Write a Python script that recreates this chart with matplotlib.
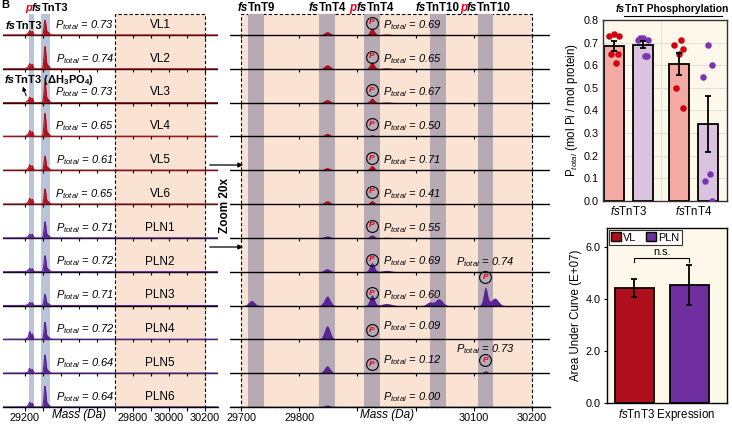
import matplotlib.pyplot as plt
import numpy as np
from matplotlib.patches import Rectangle, Patch
from matplotlib.offsetbox import TextArea, HPacker, AnnotationBbox

plt.rcParams['font.family'] = ['Liberation Sans', 'DejaVu Sans']
plt.rcParams['mathtext.fontset'] = 'custom'
plt.rcParams['mathtext.rm'] = 'Liberation Sans'
plt.rcParams['mathtext.it'] = 'Liberation Sans:italic'
plt.rcParams['mathtext.bf'] = 'Liberation Sans:bold'

W, H = 732, 425

# ---- data ----
samples = ['VL1', 'VL2', 'VL3', 'VL4', 'VL5', 'VL6',
           'PLN1', 'PLN2', 'PLN3', 'PLN4', 'PLN5', 'PLN6']
p_tnt3 = [0.73, 0.74, 0.73, 0.65, 0.61, 0.65, 0.71, 0.72, 0.71, 0.72, 0.64, 0.64]
p_tnt4 = [0.69, 0.65, 0.67, 0.50, 0.71, 0.41, 0.55, 0.69, 0.60, 0.09, 0.12, 0.00]
tnt10_rows = [8, 10]
p_tnt10 = [0.74, 0.73]

# full spectra: peak masses (Da), widths and heights per row (fraction of row height)
a_mass = [29213, 29226, 29240, 29311, 29326]
a_sigma = [4, 4.5, 4.5, 5, 8]
a_height = [
    [0.04, 0.13, 0.11, 0.42, 0.08],
    [0.04, 0.15, 0.13, 0.64, 0.10],
    [0.05, 0.16, 0.13, 0.58, 0.10],
    [0.05, 0.17, 0.14, 0.66, 0.10],
    [0.04, 0.16, 0.13, 0.40, 0.08],
    [0.04, 0.17, 0.14, 0.43, 0.08],
    [0.03, 0.11, 0.10, 0.46, 0.08],
    [0.03, 0.10, 0.09, 0.46, 0.08],
    [0.03, 0.09, 0.08, 0.32, 0.06],
    [0.04, 0.23, 0.16, 0.49, 0.08],
    [0.03, 0.14, 0.11, 0.52, 0.08],
    [0.03, 0.14, 0.11, 0.60, 0.08],
]
# zoomed spectra (20x)
b_mass = [29718, 29848, 29925, 29950, 30024, 30040, 30120, 30136]
b_sigma = [5, 5, 4, 8, 5, 6, 3.5, 6]
b_height = [
    [0.00, 0.10, 0.20, 0.03, 0.00, 0.00, 0.00, 0.00],
    [0.00, 0.12, 0.20, 0.03, 0.00, 0.00, 0.02, 0.00],
    [0.00, 0.09, 0.13, 0.02, 0.00, 0.00, 0.00, 0.00],
    [0.00, 0.09, 0.05, 0.00, 0.00, 0.00, 0.00, 0.00],
    [0.00, 0.08, 0.14, 0.02, 0.00, 0.00, 0.00, 0.00],
    [0.00, 0.10, 0.10, 0.02, 0.00, 0.00, 0.00, 0.00],
    [0.00, 0.06, 0.09, 0.02, 0.00, 0.00, 0.00, 0.00],
    [0.00, 0.09, 0.27, 0.04, 0.00, 0.00, 0.00, 0.00],
    [0.15, 0.28, 0.32, 0.06, 0.10, 0.20, 0.54, 0.22],
    [0.00, 0.40, 0.03, 0.00, 0.00, 0.00, 0.03, 0.00],
    [0.00, 0.22, 0.02, 0.00, 0.00, 0.00, 0.07, 0.02],
    [0.00, 0.06, 0.00, 0.00, 0.00, 0.00, 0.00, 0.00],
]
a_bands = [(29222, 29250), (29289, 29339)]
b_bands = [(29712, 29740), (29834, 29862), (29911, 29939), (30025, 30052), (30107, 30133)]
b_band_names = [['', 'fs', 'TnT9'], ['', 'fs', 'TnT4'], ['p', 'fs', 'TnT4'],
                ['', 'fs', 'TnT10'], ['p', 'fs', 'TnT10']]

# bar charts
groups = ['fsTnT3', 'fsTnT4']
vl_phos = [p_tnt3[:6], p_tnt4[:6]]
pln_phos = [p_tnt3[6:], p_tnt4[6:]]
jitter = [-0.07, 0.0, 0.07, -0.04, 0.03, 0.06]
auc_labels = ['VL', 'PLN']
auc_mean = [4.42, 4.55]
auc_err = [0.36, 0.77]

VL_C = '#b0101e'
PLN_C = '#5a2396'
ORANGE = '#fbe3d3'


def px_axes(x0, y0, x1, y1):
    return fig.add_axes([x0 / W, 1 - y1 / H, (x1 - x0) / W, (y1 - y0) / H])


def styled(parts, size):
    areas = []
    for t in parts:
        if not t:
            continue
        if t == 'p':
            props = dict(color='#e0001a', fontweight='bold', fontstyle='italic')
        elif t == 'fs':
            props = dict(color='black', fontweight='bold', fontstyle='italic')
        else:
            props = dict(color='black', fontweight='bold')
        props['fontsize'] = size
        areas.append(TextArea(t, textprops=props))
    return HPacker(children=areas, pad=0, sep=0, align='baseline')


def put(ax, box, xy, coords, align=(0.5, 0.5)):
    ab = AnnotationBbox(box, xy, xycoords=coords, frameon=False,
                        box_alignment=align, pad=0)
    ax.add_artist(ab)


def spectrum(x, mass, sigma, heights):
    y = np.zeros_like(x)
    for m, s, h in zip(mass, sigma, heights):
        y += h * np.exp(-0.5 * ((x - m) / s) ** 2)
    return y


def p_circle(ax, x, y):
    ax.plot(x, y, 'o', ms=8.5, mfc='none', mec='black', mew=0.8, zorder=4)
    ax.text(x, y, 'P', color='#e0001a', fontsize=6, fontweight='bold',
            style='italic', ha='center', va='center', zorder=4)


def stack_axes(ax, xlim, ticks, labels, box, bands, band_color, fill_box):
    ax.set_xlim(*xlim)
    ax.set_ylim(0, 11.62)
    ax.patch.set_alpha(0)
    for s in ['top', 'left', 'right']:
        ax.spines[s].set_visible(False)
    ax.spines['bottom'].set_linewidth(1.0)
    ax.set_yticks([])
    ax.set_xticks(ticks)
    ax.set_xticklabels(labels, fontsize=7.8)
    ax.tick_params(axis='x', direction='out', length=3, width=0.8, pad=1.5)
    ax.add_patch(Rectangle((box[0], 0), box[1] - box[0], 11.62, facecolor=fill_box,
                           edgecolor='black', linestyle=(0, (3, 2)), lw=0.8, zorder=0,
                           clip_on=False))
    for lo, hi in bands:
        ax.axvspan(lo, hi, color=band_color, lw=0, zorder=0.5)
    for i in range(11):
        ax.vlines(ticks, 11 - i - 0.09, 11 - i, color='black', lw=0.8, zorder=3)


fig = plt.figure(figsize=(W / 100, H / 100), dpi=100)

# ---- full spectra panel ----
axA = px_axes(3, 14, 218, 407)
stack_axes(axA, (29078, 30272), list(range(29200, 30201, 100)),
           ['29200', '', '', '', '', '', '29800', '', '30000', '', '30200'],
           (29700, 30200), a_bands, '#b9c4d9', ORANGE)
xa = np.linspace(29078, 30272, 3000)
for i, name in enumerate(samples):
    b = 11 - i
    col = VL_C if name.startswith('VL') else PLN_C
    y = spectrum(xa, a_mass, a_sigma, a_height[i])
    axA.axhline(b, color='black', lw=1.0, zorder=2)
    axA.fill_between(xa, b, b + y, color=col, lw=0, zorder=2.5)
    axA.plot(xa, b + y, color=col, lw=0.8, zorder=2.6)
    axA.text(29695, b + 0.3, rf"$P_{{total}}$ = {p_tnt3[i]:.2f}", ha='right', va='center',
             style='italic', fontsize=8)
    axA.text(29950, b + 0.3, name, ha='center', va='center', fontsize=8.5)
axA.text(29500, -0.25, 'Mass (Da)', ha='center', va='center', style='italic', fontsize=8.5)
put(axA, styled(['p', 'fs', 'TnT3'], 8), (29322, H - 8), ('data', 'figure pixels'))
put(axA, styled(['fs', 'TnT3'], 8), (29194, H - 26), ('data', 'figure pixels'))
put(axA, HPacker(children=[
    TextArea('fs', textprops=dict(fontsize=8, fontweight='bold', fontstyle='italic')),
    TextArea(r'TnT3 ($\mathbf{\Delta}$H$_{\mathbf{3}}$PO$_{\mathbf{4}}$)',
             textprops=dict(fontsize=8, fontweight='bold'))], pad=0, sep=0, align='baseline'),
    (29085, H - 80), ('data', 'figure pixels'), align=(0, 0.5))
axA.annotate('', xy=(29183, 9.55), xytext=(29212, 9.12),
             arrowprops=dict(arrowstyle='-|>', lw=0.7, color='black', mutation_scale=6))

# ---- zoomed spectra panel ----
axB = px_axes(230, 14, 550, 407)
stack_axes(axB, (29681, 30231), list(range(29700, 30201, 100)),
           ['29700', '29800', '', '', '30100', '30200'],
           (29700, 30200), b_bands, '#b6abb4', ORANGE)
xb = np.linspace(29681, 30231, 3000)
for i, name in enumerate(samples):
    b = 11 - i
    col = VL_C if name.startswith('VL') else PLN_C
    y = spectrum(xb, b_mass, b_sigma, b_height[i])
    axB.fill_between(xb, b, b + y, color=col, lw=0, zorder=2.5)
    axB.axhline(b, color='black', lw=1.0, zorder=2.7)
    low = name in ('PLN4', 'PLN5')
    if p_tnt4[i] > 0:
        p_circle(axB, 29925, b + (0.27 if low else 0.36))
    axB.text(29944, b + (0.38 if low else 0.3), rf"$P_{{total}}$ = {p_tnt4[i]:.2f}",
             ha='left', va='center', style='italic', fontsize=8)
for r, p in zip(tnt10_rows, p_tnt10):
    b = 11 - r
    p_circle(axB, 30120, b + (0.83 if r == 8 else 0.38))
    axB.text(30120, b + (1.27 if r == 8 else 0.71), rf"$P_{{total}}$ = {p:.2f}",
             ha='center', va='center', style='italic', fontsize=8)
axB.text(29950, -0.25, 'Mass (Da)', ha='center', va='center', style='italic', fontsize=8.5)
for (lo, hi), parts in zip(b_bands, b_band_names):
    put(axB, styled(parts, 8.3), ((lo + hi) / 2, H - 8), ('data', 'figure pixels'))

# zoom arrows
for yy in (165, 247):
    fig.add_artist(plt.Annotation('', xy=(246 / W, 1 - yy / H), xytext=(207 / W, 1 - yy / H),
                                  xycoords='figure fraction',
                                  arrowprops=dict(arrowstyle='-|>', lw=0.9, color='black',
                                                  mutation_scale=7)))
fig.text(225 / W, 1 - 206 / H, 'Zoom 20x', rotation=90, ha='center', va='center',
         fontsize=8.5, fontweight='bold')
fig.text(1 / W, 1 - 5 / H, 'B', fontsize=8, fontweight='bold', ha='left', va='center')

# ---- phosphorylation bars ----
axC = px_axes(603, 20, 727, 201)
axC.set_facecolor('#fdf8ea')
xg = np.arange(len(groups))
off = 0.224
axC.set_xlim(-0.394, 1.521)
axC.set_ylim(0, 0.8)
axC.set_yticks(np.arange(0, 0.81, 0.1))
axC.set_yticklabels([f'{v:.1f}' for v in np.arange(0, 0.81, 0.1)], fontsize=7.8)
axC.grid(axis='y', color='#dcdcdc', lw=0.6)
axC.axvline(0.5, color='#dcdcdc', lw=0.6)
axC.set_axisbelow(True)
for g in xg:
    for vals, sgn, fc, dc in ((vl_phos[g], -1, '#f2aaa3', '#d00010'),
                              (pln_phos[g], 1, '#dac3df', '#7a35b0')):
        v = np.array(vals)
        m = v.mean()
        se = v.std(ddof=1) / np.sqrt(len(v))
        x = g + sgn * off
        axC.bar(x, m, width=0.31, color=fc, edgecolor='black', lw=1.3, zorder=2)
        axC.scatter(x + np.array(jitter), v, s=22, color=dc, zorder=3, lw=0)
        axC.errorbar(x, m, yerr=se, color='black', lw=1.3, capsize=2.5, capthick=1.3, zorder=4)
axC.set_xticks(xg)
axC.set_xticklabels([r'$\mathit{fs}$TnT3', r'$\mathit{fs}$TnT4'], fontsize=8.3)
axC.tick_params(axis='x', length=0, pad=3)
axC.tick_params(axis='y', length=0, pad=3)
for s in axC.spines.values():
    s.set_color('#333333')
    s.set_linewidth(1.0)
axC.set_ylabel(r'P$_{total}$ (mol Pi / mol protein)', fontsize=8.3, labelpad=3)
put(axC, styled(['fs', 'TnT Phosphorylation'], 7.4), (672, H - 9), 'figure pixels')
fig.add_artist(plt.Line2D([624 / W, 722 / W], [1 - 15.5 / H, 1 - 15.5 / H], color='black', lw=0.8))

# ---- expression bars ----
axD = px_axes(607, 228, 727, 403)
axD.set_facecolor('#fdf8ea')
axD.set_xlim(-0.5, 1.682)
axD.set_ylim(0, 6.73)
xe = np.arange(len(auc_labels))
axD.bar(xe, auc_mean, width=0.71, color=[VL_C, '#6f2f9f'], edgecolor='black', lw=1.3, zorder=2)
axD.errorbar(xe, auc_mean, yerr=auc_err, fmt='none', ecolor='black', lw=1.3, capsize=2.5,
             capthick=1.3, zorder=3)
axD.plot([0, 0, 1, 1], [5.42, 5.58, 5.58, 5.42], color='black', lw=0.8)
axD.text(0.5, 5.62, 'n.s.', ha='center', va='bottom', fontsize=7.8)
axD.set_yticks([0, 2, 4, 6])
axD.set_yticklabels(['0.0', '2.0', '4.0', '6.0'], fontsize=7.8)
axD.set_xticks([])
axD.tick_params(axis='y', direction='out', length=2.5, pad=2)
for s in axD.spines.values():
    s.set_color('black')
    s.set_linewidth(1.0)
axD.set_ylabel('Area Under Curve (E+07)', fontsize=8.3, labelpad=3)
axD.set_xlabel(r'$\mathit{fs}$TnT3 Expression', fontsize=8.3, labelpad=3)
handles = [Patch(facecolor=VL_C, edgecolor='black', lw=1), Patch(facecolor='#6f2f9f', edgecolor='black', lw=1)]
axD.legend(handles, auc_labels, loc='upper left', ncol=2, fontsize=7.8, frameon=True,
           fancybox=False, edgecolor='black', borderaxespad=0.15, handlelength=0.9,
           handleheight=0.9, handletextpad=0.2, columnspacing=0.9, borderpad=0.25
           ).get_frame().set_linewidth(0.8)

fig.savefig('out.png', dpi=100)
